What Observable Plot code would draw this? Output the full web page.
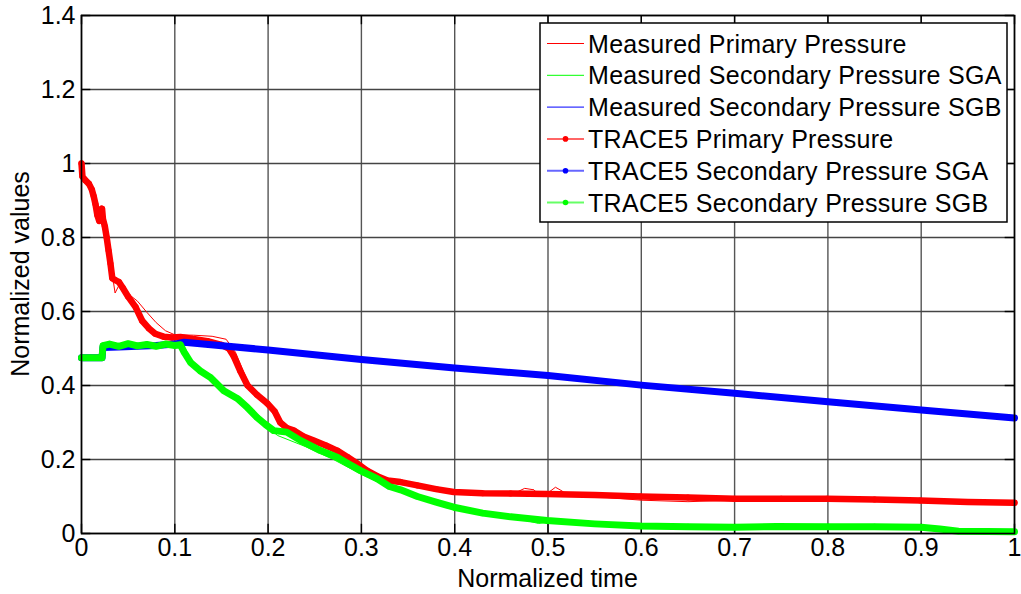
<!DOCTYPE html>
<html>
<head>
<meta charset="utf-8">
<script src="https://cdn.jsdelivr.net/npm/d3@7"></script>
<script src="https://cdn.jsdelivr.net/npm/@observablehq/plot@0.6"></script>
<style>
  html, body { margin: 0; padding: 0; background: #fff; }
  #chart { position: relative; width: 1021px; height: 594px; }
</style>
</head>
<body>
<div id="chart"></div>
<script>
// ---------- tick labels ----------
const xTicks = [0, 0.1, 0.2, 0.3, 0.4, 0.5, 0.6, 0.7, 0.8, 0.9, 1];
const yTicks = [0, 0.2, 0.4, 0.6, 0.8, 1, 1.2, 1.4];
const xLabel = "Normalized time";
const yLabel = "Normalized values";

// ---------- series names ----------
const seriesNames = [
  "Measured Primary Pressure",
  "Measured Secondary Pressure SGA",
  "Measured Secondary Pressure SGB",
  "TRACE5 Primary Pressure",
  "TRACE5 Secondary Pressure SGA",
  "TRACE5 Secondary Pressure SGB"
];
const seriesColors = ["#ff0000", "#00ff00", "#0000ff", "#ff0000", "#0000ff", "#00ff00"];

// ---------- Measured Primary Pressure ----------
const measPrimT = [0, 0.005, 0.012, 0.018, 0.023, 0.028, 0.033, 0.036, 0.04, 0.05, 0.06, 0.07, 0.08, 0.09, 0.1, 0.12, 0.14, 0.155, 0.165, 0.18, 0.2, 0.22, 0.25, 0.28, 0.3, 0.33, 0.36, 0.4, 0.45, 0.465, 0.475, 0.485, 0.49, 0.495, 0.5, 0.508, 0.515, 0.52, 0.55, 0.6, 0.65, 0.7, 0.8, 0.9, 1];
const measPrimV = [0.99, 0.955, 0.925, 0.85, 0.84, 0.79, 0.70, 0.65, 0.67, 0.648, 0.628, 0.598, 0.57, 0.548, 0.537, 0.536, 0.533, 0.525, 0.49, 0.40, 0.345, 0.29, 0.245, 0.215, 0.18, 0.145, 0.13, 0.11, 0.105, 0.11, 0.122, 0.118, 0.105, 0.10, 0.11, 0.125, 0.115, 0.105, 0.10, 0.09, 0.086, 0.09, 0.09, 0.085, 0.08];

// ---------- Measured Secondary Pressure SGA ----------
const measSgaT = [0, 0.022, 0.023, 0.1, 0.108, 0.12, 0.14, 0.17, 0.19, 0.21, 0.24, 0.27, 0.3, 0.33, 0.36, 0.4, 0.45, 0.48, 0.49, 0.5, 0.52, 0.55, 0.6, 0.7, 0.8, 0.9, 0.95, 1];
const measSgaV = [0.475, 0.475, 0.505, 0.51, 0.505, 0.46, 0.42, 0.36, 0.31, 0.265, 0.235, 0.20, 0.16, 0.125, 0.10, 0.07, 0.05, 0.033, 0.027, 0.032, 0.03, 0.028, 0.02, 0.017, 0.017, 0.016, 0.005, 0.004];

// ---------- Measured Secondary Pressure SGB ----------
const measSgbT = [0, 0.022, 0.024, 0.1, 0.11, 0.2, 0.3, 0.4, 0.5, 0.6, 0.7, 0.8, 0.9, 1];
const measSgbV = [0.475, 0.475, 0.502, 0.51, 0.516, 0.494, 0.468, 0.446, 0.425, 0.40, 0.377, 0.355, 0.333, 0.311];

// ---------- TRACE5 Primary Pressure ----------
const trPrimT = [0, 0.001, 0.004, 0.008, 0.011, 0.013, 0.015, 0.017, 0.019, 0.021, 0.022, 0.023, 0.025, 0.027, 0.029, 0.031, 0.033, 0.036, 0.04, 0.044, 0.05, 0.058, 0.065, 0.072, 0.079, 0.088, 0.097, 0.106, 0.12, 0.135, 0.15, 0.158, 0.163, 0.17, 0.178, 0.188, 0.199, 0.207, 0.213, 0.22, 0.228, 0.238, 0.249, 0.262, 0.274, 0.285, 0.295, 0.306, 0.317, 0.328, 0.342, 0.36, 0.38, 0.399, 0.43, 0.46, 0.499, 0.55, 0.599, 0.65, 0.7, 0.75, 0.799, 0.85, 0.899, 0.95, 1];
const trPrimV = [1.0, 0.965, 0.955, 0.945, 0.93, 0.912, 0.89, 0.86, 0.845, 0.86, 0.878, 0.85, 0.83, 0.80, 0.765, 0.73, 0.69, 0.685, 0.68, 0.665, 0.64, 0.612, 0.575, 0.555, 0.54, 0.532, 0.53, 0.531, 0.526, 0.52, 0.51, 0.50, 0.48, 0.44, 0.40, 0.375, 0.352, 0.33, 0.30, 0.285, 0.278, 0.262, 0.251, 0.238, 0.224, 0.207, 0.19, 0.17, 0.155, 0.143, 0.139, 0.13, 0.12, 0.112, 0.109, 0.108, 0.107, 0.104, 0.10, 0.097, 0.094, 0.094, 0.094, 0.092, 0.089, 0.085, 0.083];

// ---------- TRACE5 Secondary Pressure SGA ----------
const trSgaT = [0, 0.01, 0.022, 0.023, 0.04, 0.06, 0.08, 0.1, 0.11, 0.2, 0.3, 0.4, 0.5, 0.6, 0.7, 0.8, 0.9, 1];
const trSgaV = [0.475, 0.475, 0.475, 0.503, 0.504, 0.506, 0.508, 0.512, 0.517, 0.496, 0.47, 0.447, 0.427, 0.401, 0.379, 0.356, 0.334, 0.312];

// ---------- TRACE5 Secondary Pressure SGB ----------
const trSgbT = [0, 0.01, 0.022, 0.023, 0.03, 0.04, 0.05, 0.06, 0.07, 0.08, 0.09, 0.1, 0.106, 0.11, 0.117, 0.127, 0.138, 0.1525, 0.167, 0.178, 0.188, 0.197, 0.206, 0.22, 0.235, 0.256, 0.274, 0.285, 0.299, 0.317, 0.33, 0.342, 0.36, 0.38, 0.399, 0.43, 0.46, 0.499, 0.55, 0.599, 0.65, 0.7, 0.745, 0.8, 0.85, 0.9, 0.92, 0.94, 1];
const trSgbV = [0.475, 0.475, 0.475, 0.508, 0.512, 0.506, 0.513, 0.507, 0.511, 0.506, 0.512, 0.508, 0.51, 0.49, 0.462, 0.44, 0.422, 0.386, 0.365, 0.34, 0.314, 0.295, 0.278, 0.274, 0.251, 0.224, 0.206, 0.19, 0.17, 0.148, 0.127, 0.118, 0.10, 0.085, 0.071, 0.055, 0.045, 0.035, 0.026, 0.02, 0.018, 0.017, 0.019, 0.018, 0.018, 0.017, 0.012, 0.006, 0.005];

// ---------- build tables ----------
const toRows = (ts, vs) => ts.map((t, i) => ({t, v: vs[i]}));
const measPrim = toRows(measPrimT, measPrimV);
const measSga = toRows(measSgaT, measSgaV);
const measSgb = toRows(measSgbT, measSgbV);
const trPrim = toRows(trPrimT, trPrimV);
const trSga = toRows(trSgaT, trSgaV);
const trSgb = toRows(trSgbT, trSgbV);

const W = 1021, H = 594;
const mL = 81, mR = 7, mT = 15, mB = 61;
const font = "'Liberation Sans', Arial, Helvetica, sans-serif";
const fs = 25;

const thick = 6.5, dotR = 3;

const plot = Plot.plot({
  width: W,
  height: H,
  marginLeft: mL,
  marginRight: mR,
  marginTop: mT,
  marginBottom: mB,
  style: {fontFamily: font, fontSize: fs + "px", background: "#fff", color: "#000"},
  x: {domain: [0, 1]},
  y: {domain: [0, 1.4]},
  marks: [
    Plot.gridX(xTicks, {stroke: "#555", strokeOpacity: 1, strokeWidth: 1.4}),
    Plot.gridY(yTicks, {stroke: "#444", strokeOpacity: 1, strokeWidth: 1.4}),
    // inward tick marks
    Plot.ruleX(xTicks, {x: d => d, y1: 0, y2: 0.025, stroke: "#000", strokeWidth: 1.4}),
    Plot.ruleX(xTicks, {x: d => d, y1: 1.375, y2: 1.4, stroke: "#000", strokeWidth: 1.4}),
    Plot.ruleY(yTicks, {y: d => d, x1: 0, x2: 0.01, stroke: "#000", strokeWidth: 1.4}),
    Plot.ruleY(yTicks, {y: d => d, x1: 0.99, x2: 1, stroke: "#000", strokeWidth: 1.4}),
    // measured (thin)
    Plot.line(measPrim, {x: "t", y: "v", stroke: seriesColors[0], strokeWidth: 1}),
    Plot.line(measSga, {x: "t", y: "v", stroke: seriesColors[1], strokeWidth: 1}),
    Plot.line(measSgb, {x: "t", y: "v", stroke: seriesColors[2], strokeWidth: 1}),
    // TRACE5 (thick + dots)
    Plot.line(trPrim, {x: "t", y: "v", stroke: seriesColors[3], strokeWidth: thick}),
    Plot.dot(trPrim, {x: "t", y: "v", fill: seriesColors[3], r: dotR}),
    Plot.line(trSga, {x: "t", y: "v", stroke: seriesColors[4], strokeWidth: thick + 0.5}),
    Plot.dot(trSga, {x: "t", y: "v", fill: seriesColors[4], r: dotR}),
    Plot.line(trSgb, {x: "t", y: "v", stroke: seriesColors[5], strokeWidth: thick + 0.5}),
    Plot.dot(trSgb, {x: "t", y: "v", fill: seriesColors[5], r: dotR}),
    Plot.frame({stroke: "#000", strokeWidth: 1.6}),
    Plot.axisX(xTicks, {tickSize: 0, tickPadding: 5, tickFormat: d => String(d), label: null, fontSize: fs}),
    Plot.axisY(yTicks, {tickSize: 0, tickPadding: 6, tickFormat: d => String(d), label: null, fontSize: fs})
  ]
});

document.getElementById("chart").appendChild(plot);

// ---------- axis titles and legend ----------
const svg = d3.select(plot);
svg.append("text")
  .attr("x", mL + (W - mL - mR) / 2)
  .attr("y", 587)
  .attr("text-anchor", "middle")
  .style("font-family", font)
  .style("font-size", fs + "px")
  .attr("fill", "#000")
  .text(xLabel);
svg.append("text")
  .attr("transform", `translate(29, ${mT + (H - mT - mB) / 2}) rotate(-90)`)
  .attr("text-anchor", "middle")
  .style("font-family", font)
  .style("font-size", fs + "px")
  .attr("fill", "#000")
  .text(yLabel);

const lg = svg.append("g").attr("text-anchor", "start");
const box = {x: 540, y: 23, w: 467, h: 199};
lg.append("rect")
  .attr("x", box.x).attr("y", box.y).attr("width", box.w).attr("height", box.h)
  .attr("fill", "#fff").attr("stroke", "#000").attr("stroke-width", 1.5);
const rowY0 = 43.5, rowDy = 31.8;
seriesNames.forEach((name, i) => {
  const y = rowY0 + i * rowDy;
  const isTrace = i >= 3;
  lg.append("line")
    .attr("x1", 547).attr("x2", 584).attr("y1", y).attr("y2", y)
    .attr("stroke", seriesColors[i])
    .attr("stroke-width", isTrace ? 2 : 1)
    .attr("stroke-opacity", isTrace ? 0.6 : 1);
  if (isTrace) {
    lg.append("circle").attr("cx", 565.5).attr("cy", y).attr("r", 2.8).attr("fill", seriesColors[i]);
  }
  lg.append("text")
    .attr("x", 588).attr("y", y)
    .attr("dy", "0.36em")
    .attr("text-anchor", "start")
    .style("font-family", font)
    .style("font-size", fs + "px")
    .style("letter-spacing", "0.3px")
    .attr("fill", "#000")
    .text(name);
});
</script>
</body>
</html>
